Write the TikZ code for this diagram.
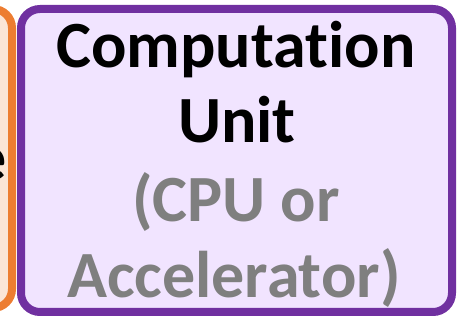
\documentclass[tikz,border=0pt]{standalone}
\usepackage{fontspec}
\setmainfont[Ligatures={NoCommon}]{Carlito}
\definecolor{cpurple}{HTML}{7030A0}
\definecolor{cpurplefill}{HTML}{F1E4FF}
\definecolor{corange}{HTML}{ED7D31}
\definecolor{corangefill}{HTML}{FBE5D6}
\definecolor{cgrey}{HTML}{7F7F7F}
\begin{document}
\begin{tikzpicture}[x=1pt,y=-1pt,
  boxline/.style={line width=8pt, rounded corners=19pt},
  bigtext/.style={font=\fontsize{66}{76}\selectfont\bfseries, inner sep=0pt, anchor=base},
]
\useasboundingbox (0,0) rectangle (458,320);
\clip (0,0) rectangle (458,320);
\draw[boxline, draw=corange, fill=corangefill] (-60,9) rectangle (12,308);
\node[bigtext, anchor=base east] (e) at (7,181) {e};
\draw[boxline, draw=cpurple, fill=cpurplefill] (21,9) rectangle (452,312);
\node[bigtext] (t1) at (236,68) {Computation};
\node[bigtext] (t2) at (237,143) {Unit};
\node[bigtext, text=cgrey] (t3) at (236,222) {(CPU or};
\node[bigtext, text=cgrey] (t4) at (234,298) {Accelerator)};
\end{tikzpicture}
\end{document}
